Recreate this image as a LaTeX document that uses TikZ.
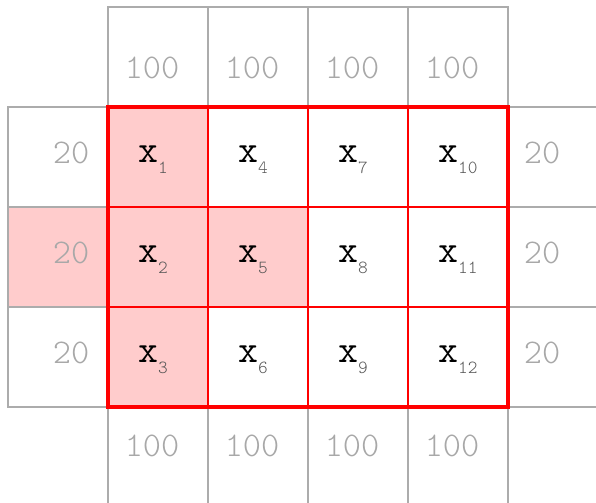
\documentclass[tikz,border=0pt]{standalone}
\usepackage{fontspec}
\usetikzlibrary{positioning}
\newfontfamily\thinmono{Latin Modern Mono Light}
\definecolor{boxgray}{RGB}{172, 172, 172}
\definecolor{numgray}{RGB}{168, 168, 168}
\definecolor{subgray}{RGB}{85, 85, 85}
\definecolor{cellpink}{RGB}{255, 204, 204}

\begin{document}
\begin{tikzpicture}[x=2cm, y=2cm,
        padbox/.style={draw=boxgray, line width=0.75pt, minimum size=2cm,
            inner sep=0pt, outer sep=0pt},
        gridbox/.style={minimum size=2cm, inner sep=0pt, outer sep=0pt},
        padnum/.style={font=\thinmono\fontsize{19.7}{20}\selectfont,
            text=numgray, inner sep=0pt},
        xlab/.style={font=\ttfamily\fontsize{22}{22}\selectfont, inner sep=0pt,
            anchor=base west, xshift=17pt, yshift=-2.85pt}
    ]
    \useasboundingbox (-0.08, 0.05) rectangle (5.88, 5.07);
    \clip (-0.08, 0.05) rectangle (5.88, 5.07);

    % padding cells above and below
    \foreach \c in {1,...,4} {
        \node[padbox] (top\c) at (\c+0.5, 4.5) {};
        \node[padnum, xshift=-3.4pt, yshift=-6.3pt] (topnum\c) at (top\c) {100};
        \node[padbox] (bot\c) at (\c+0.5, 0.5) {};
        \node[padnum, xshift=-3.4pt, yshift=6.3pt] (botnum\c) at (bot\c) {100};
    }

    % padding cells left and right
    \foreach \r/\fc in {1/white, 2/cellpink, 3/white} {
        \node[padbox, fill=\fc] (left\r) at (0.5, 4.5-\r) {};
        \node[padnum, xshift=7.4pt, yshift=2.3pt] (leftnum\r) at (left\r) {20};
        \node[padbox] (right\r) at (5.5, 4.5-\r) {};
        \node[padnum, xshift=-9.1pt, yshift=2.3pt] (rightnum\r) at (right\r) {20};
    }

    % input cells
    \foreach \k/\c/\r/\fc in {1/1/1/cellpink, 2/1/2/cellpink, 3/1/3/cellpink,
                               4/2/1/white, 5/2/2/cellpink, 6/2/3/white,
                               7/3/1/white, 8/3/2/white, 9/3/3/white,
                               10/4/1/white, 11/4/2/white, 12/4/3/white} {
        \node[gridbox, fill=\fc] (x\k) at (\c+0.5, 4.5-\r) {};
    }
    \draw[red, line width=0.8pt] (x1.north west) grid[step={(1,1)}] (x12.south east);
    \draw[red, line width=2.3pt] (x1.north west) rectangle (x12.south east);

    \foreach \k in {1,...,12} {
        \node[xlab] (xlab\k) at (x\k.west)
            {x\textcolor{subgray}{\raisebox{-6.4pt}{\thinmono\fontsize{10.5}{10.5}\selectfont\k}}};
    }
\end{tikzpicture}
\end{document}
